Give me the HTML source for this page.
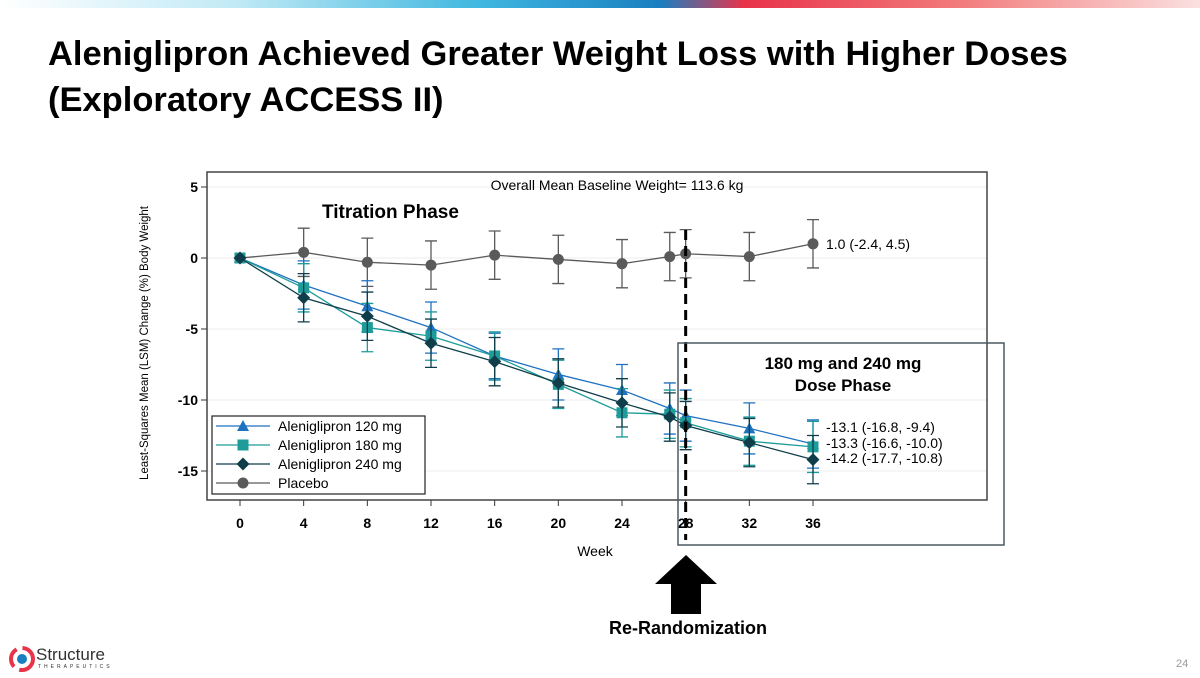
<!DOCTYPE html>
<html><head><meta charset="utf-8"><style>
body{margin:0;width:1200px;height:675px;background:#fff;overflow:hidden;font-family:"Liberation Sans",Arial,sans-serif;position:relative}
.t{position:absolute;left:48px;top:31px;font-size:34.5px;font-weight:bold;line-height:46px;color:#000}
</style></head><body>
<div style="position:absolute;left:0;top:0;width:1200px;height:8px;background:linear-gradient(90deg,#fff 0%,#bfe9f5 20%,#3fb7e0 40%,#1a7fc0 55%,#e8334a 62%,#f27b7b 80%,#fbe0e0 100%)"></div>
<div class="t">Aleniglipron Achieved Greater Weight Loss with Higher Doses<br>(Exploratory ACCESS II)</div>
<svg id="c" width="1200" height="675" style="position:absolute;left:0;top:0" font-family="Liberation Sans, Arial, sans-serif"></svg>
<div style="position:absolute;left:8px;top:645px;width:120px;height:28px">
<svg width="30" height="28"><circle cx="14" cy="14" r="11" fill="none" stroke="#e8334a" stroke-width="4" stroke-dasharray="20 6"/><circle cx="14" cy="14" r="5" fill="#1a7fc0"/></svg>
<span style="position:absolute;left:28px;top:0;font-size:17px;color:#333">Structure</span>
<span style="position:absolute;left:30px;top:19px;font-size:5px;letter-spacing:3px;color:#333">THERAPEUTICS</span></div>
<div style="position:absolute;left:1176px;top:658px;font-size:11px;color:#999">24</div>
<script>
const weeks=[0,4,8,12,16,20,24,27,28,32,36];
const placebo=[0,0.4,-0.3,-0.5,0.2,-0.1,-0.4,0.1,0.3,0.1,1.0];
const placeboErr=[0,1.7,1.7,1.7,1.7,1.7,1.7,1.7,1.7,1.7,1.7];
const d120=[0,-1.9,-3.4,-4.9,-6.9,-8.2,-9.3,-10.6,-11.1,-12.0,-13.1];
const d120Err=[0,1.7,1.8,1.8,1.6,1.8,1.8,1.8,1.8,1.8,1.7];
const d180=[0,-2.1,-4.9,-5.5,-6.9,-8.9,-10.9,-11.0,-11.6,-12.9,-13.3];
const d180Err=[0,1.7,1.7,1.7,1.7,1.7,1.7,1.7,1.7,1.7,1.8];
const d240=[0,-2.8,-4.1,-6.0,-7.3,-8.8,-10.2,-11.2,-11.8,-13.0,-14.2];
const d240Err=[0,1.7,1.7,1.7,1.7,1.7,1.7,1.7,1.7,1.7,1.7];
const yTicks=[5,0,-5,-10,-15];
const xTicks=[0,4,8,12,16,20,24,28,32,36];
const endLabels=["1.0 (-2.4, 4.5)","-13.1 (-16.8, -9.4)","-13.3 (-16.6, -10.0)","-14.2 (-17.7, -10.8)"];
const X=w=>240+w*(813-240)/36, Y=v=>258-v*14.2;
const s=document.getElementById('c'),NS='http://www.w3.org/2000/svg';
function el(t,a,txt){const e=document.createElementNS(NS,t);for(const k in a)e.setAttribute(k,a[k]);if(txt!=null)e.textContent=txt;s.appendChild(e);return e;}
let e;
yTicks.forEach(v=>{e=el('line',{x1:207,x2:987,y1:Y(v),y2:Y(v),stroke:'#eee'});
e=el('line',{x1:201,x2:207,y1:Y(v),y2:Y(v),stroke:'#333'});
e=el('text',{x:198,y:Y(v)+5,'text-anchor':'end','font-size':14,'font-weight':'bold'},String(v));});
xTicks.forEach(w=>{e=el('line',{x1:X(w),x2:X(w),y1:500,y2:506,stroke:'#333'});
e=el('text',{x:X(w),y:528,'text-anchor':'middle','font-size':14,'font-weight':'bold'},String(w));});
e=el('rect',{x:207,y:172,width:780,height:328,fill:'none',stroke:'#444','stroke-width':1.5});
e=el('text',{x:595,y:556,'text-anchor':'middle','font-size':14},'Week');
e=el('text',{x:0,y:0,transform:'translate(148,343) rotate(-90)','text-anchor':'middle','font-size':11.5},'Least-Squares Mean (LSM) Change (%) Body Weight');
e=el('text',{x:617,y:190,'text-anchor':'middle','font-size':14},'Overall Mean Baseline Weight= 113.6 kg');
e=el('text',{x:322,y:218,'font-size':19,'font-weight':'bold'},'Titration Phase');
const series=[{n:'placebo',v:placebo,e:placeboErr,c:'#5a5a5a',m:'circle'},{n:'120mg',v:d120,e:d120Err,c:'#1f72c0',m:'tri'},{n:'180mg',v:d180,e:d180Err,c:'#1d9c9a',m:'sq'},{n:'240mg',v:d240,e:d240Err,c:'#0f3e4a',m:'dia'}];
function marker(m,x,y,c,name){let r;
if(m==='circle')r=el('circle',{cx:x,cy:y,r:5.5,fill:c});
else if(m==='tri')r=el('polygon',{points:`${x},${y-6} ${x-6},${y+5} ${x+6},${y+5}`,fill:c});
else if(m==='sq')r=el('rect',{x:x-5.5,y:y-5.5,width:11,height:11,fill:c});
else r=el('polygon',{points:`${x},${y-6.5} ${x+6.5},${y} ${x},${y+6.5} ${x-6.5},${y}`,fill:c});
}
series.forEach(S=>{
S.v.forEach((v,i)=>{if(!S.e[i])return;const x=X(weeks[i]);
e=el('path',{d:`M${x},${Y(v+S.e[i])}V${Y(v-S.e[i])}M${x-6},${Y(v+S.e[i])}h12M${x-6},${Y(v-S.e[i])}h12`,stroke:S.c,'stroke-width':1.3,fill:'none'});});
e=el('polyline',{points:S.v.map((v,i)=>X(weeks[i])+','+Y(v)).join(' '),fill:'none',stroke:S.c,'stroke-width':1.3});
S.v.forEach((v,i)=>marker(S.m,X(weeks[i]),Y(v),S.c,'point-'+S.n));});
const ly=[Y(placebo[10])+5,Y(d120[10])-12,Y(d120[10])+4,Y(d120[10])+19];
endLabels.forEach((t,i)=>{e=el('text',{x:826,y:ly[i],'font-size':14},t);});
e=el('line',{x1:X(28),x2:X(28),y1:230,y2:540,stroke:'#000','stroke-width':3,'stroke-dasharray':'10 6'});
e=el('rect',{x:678,y:343,width:326,height:202,fill:'none',stroke:'#4a5a60','stroke-width':1.5});
e=el('text',{x:843,y:369,'text-anchor':'middle','font-size':17,'font-weight':'bold'},'180 mg and 240 mg');
e=el('text',{x:843,y:391,'text-anchor':'middle','font-size':17,'font-weight':'bold'},'Dose Phase');
e=el('rect',{x:212,y:416,width:213,height:78,fill:'#fff',stroke:'#222','stroke-width':1.2});
const legNames=['Aleniglipron 120 mg','Aleniglipron 180 mg','Aleniglipron 240 mg','Placebo'];
[series[1],series[2],series[3],series[0]].forEach((S,i)=>{const y=426+i*19;
e=el('line',{x1:216,x2:270,y1:y,y2:y,stroke:S.c,'stroke-width':1.3});
marker(S.m,243,y,S.c,'legend-marker');
e=el('text',{x:278,y:y+5,'font-size':14},legNames[i]);});
e=el('polygon',{points:'686,555 717,584 701,584 701,614 671,614 671,584 655,584',fill:'#000'});
e=el('text',{x:688,y:634,'text-anchor':'middle','font-size':18,'font-weight':'bold'},'Re-Randomization');
</script>
</body></html>
